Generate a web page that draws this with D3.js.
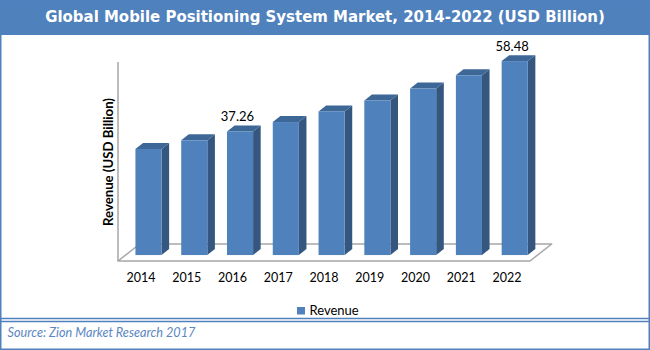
<!DOCTYPE html>
<html>
<head>
<meta charset="utf-8">
<script src="https://cdn.jsdelivr.net/npm/d3@7"></script>
<style>
  html, body { margin: 0; padding: 0; background: #fff; }
  svg { display: block; }
</style>
</head>
<body>
<svg id="chart" width="650" height="350"></svg>
<script>
// ---- data ----
const years = ["2014", "2015", "2016", "2017", "2018", "2019", "2020", "2021", "2022"];
const revenue = [32.0, 34.6, 37.26, 40.1, 43.3, 46.6, 50.2, 54.2, 58.48];
const labelledYears = ["2016", "2022"];
const titleText = "Global Mobile Positioning System Market, 2014-2022 (USD Billion)";
const yAxisTitle = "Revenue (USD Billion)";
const seriesName = "Revenue";
const sourceText = "Source: Zion Market Research 2017";

const data = years.map((y, i) => ({ year: y, value: revenue[i] }));

const svg = d3.select("#chart");
const W = 650, H = 350;
const blue = "#4f81bd";
const sideCol = "#34567f";
const topCol = "#3d6797";
const gridCol = "#a6a6a6";
const bodyFont = "Lato, 'Open Sans', sans-serif";

// frame + title bar
svg.append("rect").attr("x", 0).attr("y", 0).attr("width", W).attr("height", 35).attr("fill", blue);
svg.append("rect").attr("x", 0.75).attr("y", 0.75).attr("width", W - 1.5).attr("height", H - 1.5)
  .attr("fill", "none").attr("stroke", blue).attr("stroke-width", 1.5);
svg.append("line").attr("x1", 0).attr("x2", W).attr("y1", 318.5).attr("y2", 318.5).attr("stroke", blue).attr("stroke-width", 1.3);
svg.append("line").attr("x1", 0).attr("x2", W).attr("y1", 321.5).attr("y2", 321.5).attr("stroke", blue).attr("stroke-width", 1.3);

function fitText(sel, target) {
  const len = sel.node().getComputedTextLength();
  if (len > 0) {
    const fs = parseFloat(sel.attr("font-size"));
    sel.attr("font-size", (fs * target / len).toFixed(2));
  }
}

const title = svg.append("text")
  .attr("x", 325).attr("y", 22).attr("text-anchor", "middle")
  .attr("font-family", "Verdana, 'DejaVu Sans', sans-serif").attr("font-weight", "bold")
  .attr("font-size", 15).attr("fill", "#fff").text(titleText);
fitText(title, 560);

// ---- scales ----
const x0 = 118, x1 = 530;
const x = d3.scaleBand().domain(years).range([x0, x1]).paddingInner(0.43).paddingOuter(0.215);
const y = d3.scaleLinear().domain([0, 60]).range([261, 62]);
const depth = { dx: 21.7, dy: -17 };
const f0 = 0.35, f1 = 0.70;
const off = f => ({ dx: depth.dx * f, dy: depth.dy * f });
const o0 = off(f0), o1 = off(f1);

const plot = svg.append("g");

// floor
const yb = y(0);
plot.append("polygon")
  .attr("points", [[x0, yb], [x1, yb], [x1 + depth.dx, yb + depth.dy], [x0 + depth.dx, yb + depth.dy]].map(p => p.join(",")).join(" "))
  .attr("fill", "#fff").attr("stroke", gridCol).attr("stroke-width", 1.5).attr("stroke-linejoin", "round");
// vertical axis line
plot.append("line").attr("x1", x0).attr("x2", x0).attr("y1", y(60)).attr("y2", yb)
  .attr("stroke", gridCol).attr("stroke-width", 1.5);

// bars
const bw = x.bandwidth();
const bars = plot.selectAll("g.bar").data(data).join("g").attr("class", "bar");
bars.append("polygon") // right side
  .attr("points", d => {
    const xr = x(d.year) + bw;
    return [[xr + o0.dx, y(d.value) + o0.dy], [xr + o1.dx, y(d.value) + o1.dy],
            [xr + o1.dx, yb + o1.dy], [xr + o0.dx, yb + o0.dy]].map(p => p.join(",")).join(" ");
  })
  .attr("fill", sideCol);
bars.append("polygon") // top
  .attr("points", d => {
    const xl = x(d.year), xr = xl + bw, yt = y(d.value);
    return [[xl + o0.dx, yt + o0.dy], [xr + o0.dx, yt + o0.dy],
            [xr + o1.dx, yt + o1.dy], [xl + o1.dx, yt + o1.dy]].map(p => p.join(",")).join(" ");
  })
  .attr("fill", topCol);
bars.append("rect") // front
  .attr("x", d => x(d.year) + o0.dx)
  .attr("y", d => y(d.value) + o0.dy)
  .attr("width", bw)
  .attr("height", d => yb - y(d.value))
  .attr("fill", blue);

// data labels
plot.selectAll("text.dl").data(data.filter(d => labelledYears.includes(d.year))).join("text")
  .attr("class", "dl")
  .attr("x", d => x(d.year) + bw / 2 + 5)
  .attr("y", d => y(d.value) + o0.dy - 10.5)
  .attr("text-anchor", "middle").attr("font-family", bodyFont).attr("font-size", 13)
  .attr("fill", "#000").text(d => d.value.toFixed(2));

// x axis labels
const xAxis = d3.axisBottom(x).tickSize(0).tickPadding(12.3);
const gx = svg.append("g").attr("transform", `translate(0,${yb})`).call(xAxis);
gx.select(".domain").remove();
gx.selectAll("text").attr("font-family", bodyFont).attr("font-size", 12.5).attr("fill", "#000");

// y axis title
const yt = svg.append("text")
  .attr("transform", "translate(113,162) rotate(-90)")
  .attr("text-anchor", "middle").attr("font-family", bodyFont).attr("font-weight", "bold")
  .attr("font-size", 12).attr("fill", "#000").text(yAxisTitle);
fitText(yt, 128);

// legend
svg.append("rect").attr("x", 297).attr("y", 307).attr("width", 8).attr("height", 7.5).attr("fill", blue);
svg.append("text").attr("x", 309.5).attr("y", 314.5).attr("font-family", bodyFont).attr("font-size", 13)
  .attr("fill", "#000").text(seriesName);

// source
const src = svg.append("text").attr("x", 7.5).attr("y", 336.5)
  .attr("font-family", bodyFont).attr("font-style", "italic").attr("font-size", 13)
  .attr("fill", "#5a86c2").text(sourceText);
fitText(src, 188);
</script>
</body>
</html>
